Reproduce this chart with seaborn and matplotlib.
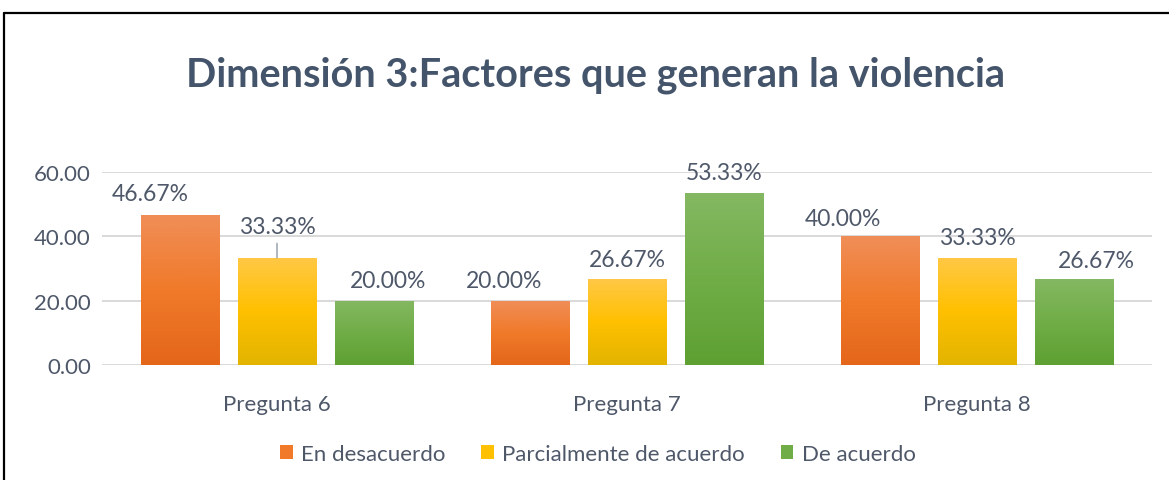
import numpy as np
import pandas as pd
import matplotlib
matplotlib.use("Agg")
import matplotlib.pyplot as plt
import seaborn as sns
from matplotlib.colors import LinearSegmentedColormap
from matplotlib.lines import Line2D
from matplotlib.patches import Rectangle

# ---------------- data ----------------
categories = ["Pregunta 6", "Pregunta 7", "Pregunta 8"]
series = ["En desacuerdo", "Parcialmente de acuerdo", "De acuerdo"]
en_desacuerdo = [46.67, 20.00, 40.00]
parcialmente_de_acuerdo = [33.33, 26.67, 33.33]
de_acuerdo = [20.00, 53.33, 26.67]
y_ticks = [0, 20, 40, 60]
title = "Dimensión 3:Factores que generan la violencia"

# ---------------- styles ----------------
mid_colors = ["#F07A2A", "#FFC000", "#70AD47"]
grad_stops = [
    ["#F08E58", "#F07A2A", "#E4661A"],
    ["#FFC846", "#FFC000", "#E2B400"],
    ["#84B862", "#70AD47", "#5EA032"],
]
# label offsets in pixels (dx, dy) per series / category
label_dx = [[-30, -26, -37], [0, 0, 0], [14, 0, 22]]
label_dy = [[21, 20, 18], [31, 20, 20], [20, 21, 19]]
leader = [[False, False, False], [True, False, False], [False, False, False]]
text_color = "#4E5869"
title_color = "#44546A"

sns.set_theme(style="white")
plt.rcParams["font.family"] = ["Lato", "DejaVu Sans"]

values = [en_desacuerdo, parcialmente_de_acuerdo, de_acuerdo]
df = pd.DataFrame({
    "Pregunta": [c for _ in series for c in categories],
    "Serie": [s for s in series for _ in categories],
    "Valor": [v for vals in values for v in vals],
})

W, H = 1169, 481
fig = plt.figure(figsize=(W / 100, H / 100), dpi=100)
ax = fig.add_axes([102 / W, 1 - 366 / H, 1050 / W, 193 / H])

sns.barplot(data=df, x="Pregunta", y="Valor", hue="Serie", order=categories,
            hue_order=series, palette=mid_colors, width=0.831, gap=0.195,
            saturation=1, errorbar=None, legend=False, ax=ax)

ax.set_xlim(-0.5, 2.5)
ax.set_ylim(0, 60)

# gradient fills
for si, cont in enumerate(ax.containers):
    cmap = LinearSegmentedColormap.from_list(f"g{si}", grad_stops[si][::-1])
    for ci, patch in enumerate(cont.patches):
        x0 = patch.get_x()
        w = patch.get_width()
        h = patch.get_height()
        grad = np.linspace(0, 1, 256).reshape(-1, 1)
        im = ax.imshow(grad, cmap=cmap, aspect="auto", origin="lower",
                       extent=[x0, x0 + w, 0, h], zorder=patch.get_zorder() + 0.1)
        im.set_clip_path(patch)
        patch.set_edgecolor("none")
        xc = x0 + w / 2
        txt = f"{values[si][ci]:.2f}%"
        kw = dict(textcoords="offset pixels", ha="center", va="center",
                  fontsize=16.5, color=text_color, annotation_clip=False)
        if leader[si][ci]:
            kw["arrowprops"] = dict(arrowstyle="-", color="#9AA3AE", lw=1.1,
                                    shrinkA=2, shrinkB=0)
        ax.annotate(txt, xy=(xc, h), xytext=(label_dx[si][ci], label_dy[si][ci]), **kw)

ax.set_xlim(-0.5, 2.5)
ax.set_ylim(0, 60)
ax.set_yticks(y_ticks)
ax.set_yticklabels([f"{v:.2f}" for v in y_ticks])
ax.set_xlabel("")
ax.set_ylabel("")
ax.yaxis.grid(True, color="#D9D9D9", lw=1.4)
ax.set_axisbelow(True)
for s in ax.spines.values():
    s.set_visible(False)
ax.tick_params(axis="y", length=0, pad=8, labelsize=16, labelcolor=text_color)
ax.tick_params(axis="x", length=0, pad=21, labelsize=16, labelcolor=text_color)

fig.text(596 / W, 1 - 75 / H, title, ha="center", va="center", fontsize=28.5,
         fontweight="bold", color=title_color)

handles = [Rectangle((0, 0), 1, 1, facecolor=c, edgecolor="none") for c in mid_colors]
fig.legend(handles, series, loc="center", bbox_to_anchor=(598 / W, 1 - 455 / H),
           ncol=3, frameon=False, handlelength=0.55, handleheight=0.55,
           handletextpad=0.4, columnspacing=1.6, fontsize=16, labelcolor=text_color)

# outer frame (top and left visible)
fig.add_artist(Line2D([4 / W, 1], [1 - 14 / H, 1 - 14 / H], transform=fig.transFigure,
                      color="black", lw=1.6))
fig.add_artist(Line2D([4 / W, 4 / W], [0, 1 - 14 / H], transform=fig.transFigure,
                      color="black", lw=1.6))

fig.savefig("out.png", dpi=100)
